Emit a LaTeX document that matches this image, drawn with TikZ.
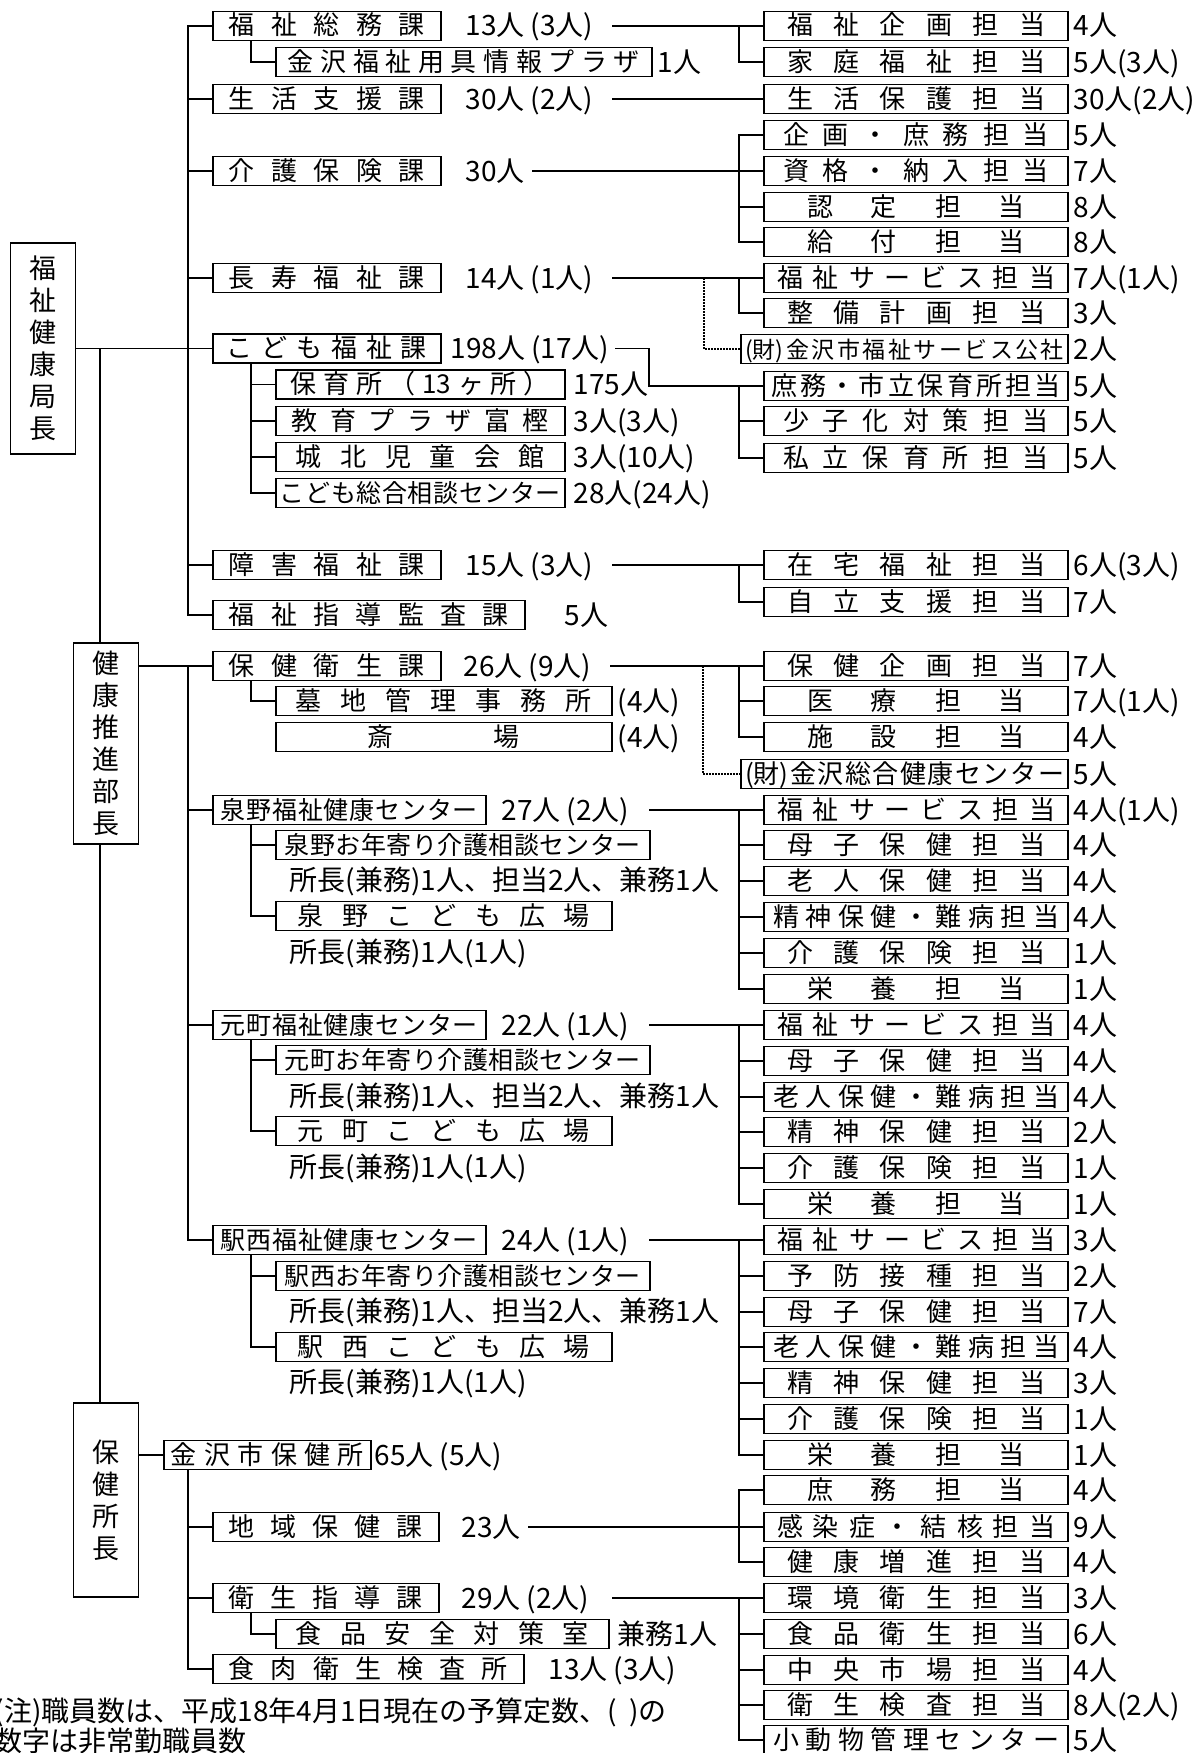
\documentclass[tikz,border=0pt]{standalone}
\usepackage{fontspec}
\setmainfont{Noto Sans CJK JP}
\usepackage{tikz}
\usetikzlibrary{positioning}
\newcommand\boxtxt{\fontsize{26}{28}\selectfont}
\newcommand\tightboxtxt{\fontsize{25}{28}\selectfont}
\newcommand\smallboxtxt{\fontsize{23}{26}\selectfont}
\newcommand\numtxt{\fontsize{28}{30}\selectfont}
\newcommand\headtxt{\fontsize{27}{32}\selectfont}
\newcommand\notetxt{\fontsize{28}{28}\selectfont}
\newcommand\zaiparen{(財)}
% spread the characters over the box
\def\spreadend{spreadend-quark}
\newcommand\spreadtxt[1]{\spreadloop#1\spreadend}
\def\spreadloop#1{\ifx#1\spreadend\else#1\expandafter\spreadsep\fi}
\def\spreadsep#1{\ifx#1\spreadend\else\hfill\fi\spreadloop#1}
\tikzset{
  head/.style={draw, align=center, minimum width=65pt, inner sep=0pt, font=\headtxt},
  ka/.style={draw, anchor=west, minimum height=29pt, inner ysep=0pt,
    text height=21pt, text depth=3pt, text width=196pt, inner xsep=16pt, font=\boxtxt},
  tan/.style={draw, minimum height=29pt, inner ysep=0pt,
    text height=21pt, text depth=3pt, text width=258pt, inner xsep=23pt, font=\boxtxt},
  tight/.style={font=\tightboxtxt},
  sp4/.style={text width=218pt, inner xsep=43pt},
  sp7/.style={text width=266pt, inner xsep=19pt},
  sp8/.style={text width=278pt, inner xsep=13pt},
  sp9/.style={text width=286pt, inner xsep=9pt},
  sp10/.style={text width=290pt, inner xsep=7pt},
  zaidan/.style={tan, text width=319pt, inner xsep=4pt},
  num/.style={inner sep=0pt, text height=23pt, text depth=3pt, font=\numtxt},
  dotline/.style={line width=1.5pt, dash pattern=on 1.5pt off 1.5pt},
}
\begin{document}
\begin{tikzpicture}[x=1pt, y=-1pt, line width=1.7pt]
  \useasboundingbox (0,0) rectangle (1200,1753);

  % heads
  \node[head, minimum height=211pt] (kyokucho) at (43,348.5) {福\\祉\\健\\康\\局\\長};
  \node[head, minimum height=201pt] (suishin) at (106,743.5) {健\\康\\推\\進\\部\\長};
  \node[head, minimum height=194pt] (hokenshocho) at (106,1500) {保\\健\\所\\長};

  % welfare sections
  \node[ka] (somu) at (212,26) {\spreadtxt{福祉総務課}};
  \node[ka, text width=352pt, inner xsep=12pt] (plaza) at (275,62) {\spreadtxt{金沢福祉用具情報プラザ}};
  \node[ka] (seikatsu) at (212,99) {\spreadtxt{生活支援課}};
  \node[ka] (kaigo) at (212,171) {\spreadtxt{介護保険課}};
  \node[ka] (choju) at (212,278) {\spreadtxt{長寿福祉課}};
  \node[ka, inner xsep=14pt, text width=200pt] (kodomo) at (212,348.5) {\spreadtxt{こども福祉課}};
  \node[ka, text width=259pt, inner xsep=15pt] (hoiku) at (275,384.5)
    {保\hfill 育\hfill 所\hfill （\hfill 13\hfill ヶ\hfill 所\hfill ）};
  \node[ka, text width=257pt] (toga) at (275,421) {\spreadtxt{教育プラザ富樫}};
  \node[ka, text width=249pt, inner xsep=20pt] (johoku) at (275,457) {\spreadtxt{城北児童会館}};
  \node[ka, tight, text width=281pt, inner xsep=4pt] (sodan) at (275,493) {\spreadtxt{こども総合相談センター}};
  \node[ka] (shogai) at (212,565) {\spreadtxt{障害福祉課}};
  \node[ka, text width=280pt] (kansa) at (212,615) {\spreadtxt{福祉指導監査課}};

  % health sections
  \node[ka] (eisei) at (212,666) {\spreadtxt{保健衛生課}};
  \node[ka, text width=296pt, inner xsep=20pt] (bochi) at (275,701) {\spreadtxt{墓地管理事務所}};
  \node[ka, text width=152pt, inner xsep=92pt] (saijo) at (275,737) {\spreadtxt{斎場}};
  \node[ka, tight, text width=257pt, inner xsep=8pt] (izumino) at (212,810) {\spreadtxt{泉野福祉健康センター}};
  \node[ka, tight, text width=356pt, inner xsep=9pt] (izrojin) at (275,845) {\spreadtxt{泉野お年寄り介護相談センター}};
  \node[ka, text width=292pt, inner xsep=22pt] (izhiroba) at (275,916) {\spreadtxt{泉野こども広場}};
  \node[ka, tight, text width=257pt, inner xsep=8pt] (motomachi) at (212,1025) {\spreadtxt{元町福祉健康センター}};
  \node[ka, tight, text width=356pt, inner xsep=9pt] (mtrojin) at (275,1060) {\spreadtxt{元町お年寄り介護相談センター}};
  \node[ka, text width=292pt, inner xsep=22pt] (mthiroba) at (275,1131) {\spreadtxt{元町こども広場}};
  \node[ka, tight, text width=257pt, inner xsep=8pt] (ekinishi) at (212,1240) {\spreadtxt{駅西福祉健康センター}};
  \node[ka, tight, text width=356pt, inner xsep=9pt] (ekrojin) at (275,1276) {\spreadtxt{駅西お年寄り介護相談センター}};
  \node[ka, text width=292pt, inner xsep=22pt] (ekhiroba) at (275,1347) {\spreadtxt{駅西こども広場}};

  % public health center
  \node[ka, text width=193pt, inner xsep=7pt] (hokensho) at (163,1455) {\spreadtxt{金沢市保健所}};
  \node[ka, text width=194pt] (chiiki) at (212,1527) {\spreadtxt{地域保健課}};
  \node[ka, text width=194pt] (shido) at (212,1598) {\spreadtxt{衛生指導課}};
  \node[ka, text width=293pt, inner xsep=20pt] (shokuhin) at (275,1634) {\spreadtxt{食品安全対策室}};
  \node[ka, text width=279pt] (shokuniku) at (212,1669) {\spreadtxt{食肉衛生検査所}};

  % staff numbers, left
  \node[num, right=23pt of somu] (nsomu) {13人 (3人)};
  \node[num, right=4pt of plaza] (nplaza) {1人};
  \node[num, right=23pt of seikatsu] (nseikatsu) {30人 (2人)};
  \node[num, right=23pt of kaigo] (nkaigo) {30人};
  \node[num, right=23pt of choju] (nchoju) {14人 (1人)};
  \node[num, right=8pt of kodomo] (nkodomo) {198人 (17人)};
  \node[num, right=7pt of hoiku] (nhoiku) {175人};
  \node[num, right=7pt of toga] (ntoga) {3人(3人)};
  \node[num, right=7pt of johoku] (njohoku) {3人(10人)};
  \node[num, right=7pt of sodan] (nsodan) {28人(24人)};
  \node[num, right=23pt of shogai] (nshogai) {15人 (3人)};
  \node[num, right=38pt of kansa] (nkansa) {5人};
  \node[num, right=21pt of eisei] (neisei) {26人 (9人)};
  \node[num, right=4pt of bochi] (nbochi) {(4人)};
  \node[num, right=4pt of saijo] (nsaijo) {(4人)};
  \node[num, right=14pt of izumino] (nizumino) {27人 (2人)};
  \node[num, anchor=west] (iznote1) at (289,880) {所長(兼務)1人、担当2人、兼務1人};
  \node[num, anchor=west] (iznote2) at (289,952) {所長(兼務)1人(1人)};
  \node[num, right=14pt of motomachi] (nmoto) {22人 (1人)};
  \node[num, anchor=west] (mtnote1) at (289,1096) {所長(兼務)1人、担当2人、兼務1人};
  \node[num, anchor=west] (mtnote2) at (289,1167) {所長(兼務)1人(1人)};
  \node[num, right=14pt of ekinishi] (neki) {24人 (1人)};
  \node[num, anchor=west] (eknote1) at (289,1311) {所長(兼務)1人、担当2人、兼務1人};
  \node[num, anchor=west] (eknote2) at (289,1382) {所長(兼務)1人(1人)};
  \node[num, right=2pt of hokensho] (nhokensho) {65人 (5人)};
  \node[num, right=21pt of chiiki] (nchiiki) {23人};
  \node[num, right=21pt of shido] (nshido) {29人 (2人)};
  \node[num, right=7pt of shokuhin] (nshokuhin) {兼務1人};
  \node[num, right=23pt of shokuniku] (nshokuniku) {13人 (3人)};

  % units, right
  \node[tan] (r1) at (916,26) {\spreadtxt{福祉企画担当}};
  \node[tan] (r2) at (916,62) {\spreadtxt{家庭福祉担当}};
  \node[tan] (r3) at (916,99) {\spreadtxt{生活保護担当}};
  \node[tan, sp7] (r4) at (916,135) {\spreadtxt{企画・庶務担当}};
  \node[tan, sp7] (r5) at (916,171) {\spreadtxt{資格・納入担当}};
  \node[tan, sp4] (r6) at (916,207) {\spreadtxt{認定担当}};
  \node[tan, sp4] (r7) at (916,242) {\spreadtxt{給付担当}};
  \node[tan, sp8] (r8) at (916,278) {\spreadtxt{福祉サービス担当}};
  \node[tan] (r9) at (916,313) {\spreadtxt{整備計画担当}};
  \node[zaidan, font=\smallboxtxt] (zaidan1) at (904.5,349) {\spreadtxt{\zaiparen 金沢市福祉サービス公社}};
  \node[tan, sp10] (r11) at (916,386) {\spreadtxt{庶務・市立保育所担当}};
  \node[tan, sp7] (r12) at (916,421) {\spreadtxt{少子化対策担当}};
  \node[tan, sp7] (r13) at (916,458) {\spreadtxt{私立保育所担当}};
  \node[tan] (r14) at (916,565) {\spreadtxt{在宅福祉担当}};
  \node[tan] (r15) at (916,602) {\spreadtxt{自立支援担当}};
  \node[tan] (r16) at (916,666) {\spreadtxt{保健企画担当}};
  \node[tan, sp4] (r17) at (916,701) {\spreadtxt{医療担当}};
  \node[tan, sp4] (r18) at (916,737) {\spreadtxt{施設担当}};
  \node[zaidan] (zaidan2) at (904.5,774) {\spreadtxt{\zaiparen 金沢総合健康センター}};
  \node[tan, sp8] (r20) at (916,810) {\spreadtxt{福祉サービス担当}};
  \node[tan] (r21) at (916,845) {\spreadtxt{母子保健担当}};
  \node[tan] (r22) at (916,881) {\spreadtxt{老人保健担当}};
  \node[tan, sp9] (r23) at (916,917) {\spreadtxt{精神保健・難病担当}};
  \node[tan] (r24) at (916,953) {\spreadtxt{介護保険担当}};
  \node[tan, sp4] (r25) at (916,989) {\spreadtxt{栄養担当}};
  \node[tan, sp8] (r26) at (916,1025) {\spreadtxt{福祉サービス担当}};
  \node[tan] (r27) at (916,1061) {\spreadtxt{母子保健担当}};
  \node[tan, sp9] (r28) at (916,1097) {\spreadtxt{老人保健・難病担当}};
  \node[tan] (r29) at (916,1132) {\spreadtxt{精神保健担当}};
  \node[tan] (r30) at (916,1168) {\spreadtxt{介護保険担当}};
  \node[tan, sp4] (r31) at (916,1204) {\spreadtxt{栄養担当}};
  \node[tan, sp8] (r32) at (916,1240) {\spreadtxt{福祉サービス担当}};
  \node[tan] (r33) at (916,1276) {\spreadtxt{予防接種担当}};
  \node[tan] (r34) at (916,1312) {\spreadtxt{母子保健担当}};
  \node[tan, sp9] (r35) at (916,1347) {\spreadtxt{老人保健・難病担当}};
  \node[tan] (r36) at (916,1383) {\spreadtxt{精神保健担当}};
  \node[tan] (r37) at (916,1419) {\spreadtxt{介護保険担当}};
  \node[tan, sp4] (r38) at (916,1455) {\spreadtxt{栄養担当}};
  \node[tan, sp4] (r39) at (916,1490) {\spreadtxt{庶務担当}};
  \node[tan, sp8] (r40) at (916,1527) {\spreadtxt{感染症・結核担当}};
  \node[tan] (r41) at (916,1562) {\spreadtxt{健康増進担当}};
  \node[tan] (r42) at (916,1598) {\spreadtxt{環境衛生担当}};
  \node[tan] (r43) at (916,1634) {\spreadtxt{食品衛生担当}};
  \node[tan] (r44) at (916,1670) {\spreadtxt{中央市場担当}};
  \node[tan] (r45) at (916,1705) {\spreadtxt{衛生検査担当}};
  \node[tan, sp9] (r46) at (916,1740) {\spreadtxt{小動物管理センター}};

  % staff numbers, right
  \node[num, right=4pt of r1] (nr1) {4人};
  \node[num, right=4pt of r2] (nr2) {5人(3人)};
  \node[num, right=4pt of r3] (nr3) {30人(2人)};
  \node[num, right=4pt of r4] (nr4) {5人};
  \node[num, right=4pt of r5] (nr5) {7人};
  \node[num, right=4pt of r6] (nr6) {8人};
  \node[num, right=4pt of r7] (nr7) {8人};
  \node[num, right=4pt of r8] (nr8) {7人(1人)};
  \node[num, right=4pt of r9] (nr9) {3人};
  \node[num, right=4pt of zaidan1] (nzaidan1) {2人};
  \node[num, right=4pt of r11] (nr11) {5人};
  \node[num, right=4pt of r12] (nr12) {5人};
  \node[num, right=4pt of r13] (nr13) {5人};
  \node[num, right=4pt of r14] (nr14) {6人(3人)};
  \node[num, right=4pt of r15] (nr15) {7人};
  \node[num, right=4pt of r16] (nr16) {7人};
  \node[num, right=4pt of r17] (nr17) {7人(1人)};
  \node[num, right=4pt of r18] (nr18) {4人};
  \node[num, right=4pt of zaidan2] (nzaidan2) {5人};
  \node[num, right=4pt of r20] (nr20) {4人(1人)};
  \node[num, right=4pt of r21] (nr21) {4人};
  \node[num, right=4pt of r22] (nr22) {4人};
  \node[num, right=4pt of r23] (nr23) {4人};
  \node[num, right=4pt of r24] (nr24) {1人};
  \node[num, right=4pt of r25] (nr25) {1人};
  \node[num, right=4pt of r26] (nr26) {4人};
  \node[num, right=4pt of r27] (nr27) {4人};
  \node[num, right=4pt of r28] (nr28) {4人};
  \node[num, right=4pt of r29] (nr29) {2人};
  \node[num, right=4pt of r30] (nr30) {1人};
  \node[num, right=4pt of r31] (nr31) {1人};
  \node[num, right=4pt of r32] (nr32) {3人};
  \node[num, right=4pt of r33] (nr33) {2人};
  \node[num, right=4pt of r34] (nr34) {7人};
  \node[num, right=4pt of r35] (nr35) {4人};
  \node[num, right=4pt of r36] (nr36) {3人};
  \node[num, right=4pt of r37] (nr37) {1人};
  \node[num, right=4pt of r38] (nr38) {1人};
  \node[num, right=4pt of r39] (nr39) {4人};
  \node[num, right=4pt of r40] (nr40) {9人};
  \node[num, right=4pt of r41] (nr41) {4人};
  \node[num, right=4pt of r42] (nr42) {3人};
  \node[num, right=4pt of r43] (nr43) {6人};
  \node[num, right=4pt of r44] (nr44) {4人};
  \node[num, right=4pt of r45] (nr45) {8人(2人)};
  \node[num, right=4pt of r46] (nr46) {5人};

  % note
  \node[inner sep=0pt, anchor=north west, align=left, font=\notetxt] (note) at (-6,1697)
    {(注)職員数は、平成18年4月1日現在の予算定数、(\hspace{12pt})の\\数字は非常勤職員数};

  % head lines
  \coordinate (jct) at (100,348.5);
  \draw (kyokucho.east) -- (kodomo.west);
  \draw (jct) -- (jct |- suishin.north);
  \draw (jct |- suishin.south) -- (jct |- hokenshocho.north);
  \draw (suishin.east |- eisei.west) -- (eisei.west);
  \draw (hokenshocho.east |- hokensho.west) -- (hokensho.west);

  % trunks
  \draw (somu.west) -- ++(-24pt,0) |- (kansa.west);
  \draw (seikatsu.west) -- ++(-24pt,0);
  \draw (kaigo.west) -- ++(-24pt,0);
  \draw (choju.west) -- ++(-24pt,0);
  \draw (shogai.west) -- ++(-24pt,0);
  \draw (eisei.west) -- ++(-24pt,0) |- (ekinishi.west);
  \draw (izumino.west) -- ++(-24pt,0);
  \draw (motomachi.west) -- ++(-24pt,0);
  \draw (hokensho.south west) ++(25pt,0) |- (shokuniku.west);
  \draw (chiiki.west) -- ++(-24pt,0);
  \draw (shido.west) -- ++(-24pt,0);

  % sub offices
  \draw (somu.south west) ++(39pt,0) |- (plaza.west);
  \draw (kodomo.south west) ++(39pt,0) |- (sodan.west);
  \draw (hoiku.west) -- ++(-24pt,0);
  \draw (toga.west) -- ++(-24pt,0);
  \draw (johoku.west) -- ++(-24pt,0);
  \draw (eisei.south west) ++(39pt,0) |- (bochi.west);
  \draw (izumino.south west) ++(39pt,0) |- (izhiroba.west);
  \draw (izrojin.west) -- ++(-24pt,0);
  \draw (motomachi.south west) ++(39pt,0) |- (mthiroba.west);
  \draw (mtrojin.west) -- ++(-24pt,0);
  \draw (ekinishi.south west) ++(39pt,0) |- (ekhiroba.west);
  \draw (ekrojin.west) -- ++(-24pt,0);
  \draw (shido.south west) ++(39pt,0) |- (shokuhin.west);

  % to the units
  \draw ([xshift=18pt]nsomu.east) -- (r1.west);
  \draw (r1.west) ++(-24pt,0) |- (r2.west);
  \draw ([xshift=18pt]nseikatsu.east) -- (r3.west);
  \draw ([xshift=7pt]nkaigo.east) -- (r5.west);
  \draw (r4.west) -- ++(-24pt,0) |- (r7.west);
  \draw (r6.west) -- ++(-24pt,0);
  \draw ([xshift=18pt]nchoju.east) -- (r8.west);
  \draw (r8.west) ++(-24pt,0) |- (r9.west);
  \coordinate (dot1) at (704,278);
  \draw[dotline] (dot1) |- (zaidan1.west);
  \coordinate (kbend) at (649,348.5);
  \draw ([xshift=5pt]nkodomo.east) -- (kbend) |- (r11.west);
  \draw (r11.west) ++(-24pt,0) |- (r13.west);
  \draw (r12.west) -- ++(-24pt,0);
  \draw ([xshift=18pt]nshogai.east) -- (r14.west);
  \draw (r14.west) ++(-24pt,0) |- (r15.west);
  \draw ([xshift=18pt]neisei.east) -- (r16.west);
  \draw (r16.west) ++(-24pt,0) |- (r18.west);
  \draw (r17.west) -- ++(-24pt,0);
  \coordinate (dot2) at (703,666);
  \draw[dotline] (dot2) |- (zaidan2.west);
  \draw ([xshift=19pt]nizumino.east) -- (r20.west);
  \draw (r20.west) ++(-24pt,0) |- (r25.west);
  \draw (r21.west) -- ++(-24pt,0);
  \draw (r22.west) -- ++(-24pt,0);
  \draw (r23.west) -- ++(-24pt,0);
  \draw (r24.west) -- ++(-24pt,0);
  \draw ([xshift=19pt]nmoto.east) -- (r26.west);
  \draw (r26.west) ++(-24pt,0) |- (r31.west);
  \draw (r27.west) -- ++(-24pt,0);
  \draw (r28.west) -- ++(-24pt,0);
  \draw (r29.west) -- ++(-24pt,0);
  \draw (r30.west) -- ++(-24pt,0);
  \draw ([xshift=19pt]neki.east) -- (r32.west);
  \draw (r32.west) ++(-24pt,0) |- (r38.west);
  \draw (r33.west) -- ++(-24pt,0);
  \draw (r34.west) -- ++(-24pt,0);
  \draw (r35.west) -- ++(-24pt,0);
  \draw (r36.west) -- ++(-24pt,0);
  \draw (r37.west) -- ++(-24pt,0);
  \draw ([xshift=7pt]nchiiki.east) -- (r40.west);
  \draw (r39.west) -- ++(-24pt,0) |- (r41.west);
  \draw ([xshift=22pt]nshido.east) -- (r42.west);
  \draw (r42.west) ++(-24pt,0) |- (r46.west);
  \draw (r43.west) -- ++(-24pt,0);
  \draw (r44.west) -- ++(-24pt,0);
  \draw (r45.west) -- ++(-24pt,0);
\end{tikzpicture}
\end{document}
